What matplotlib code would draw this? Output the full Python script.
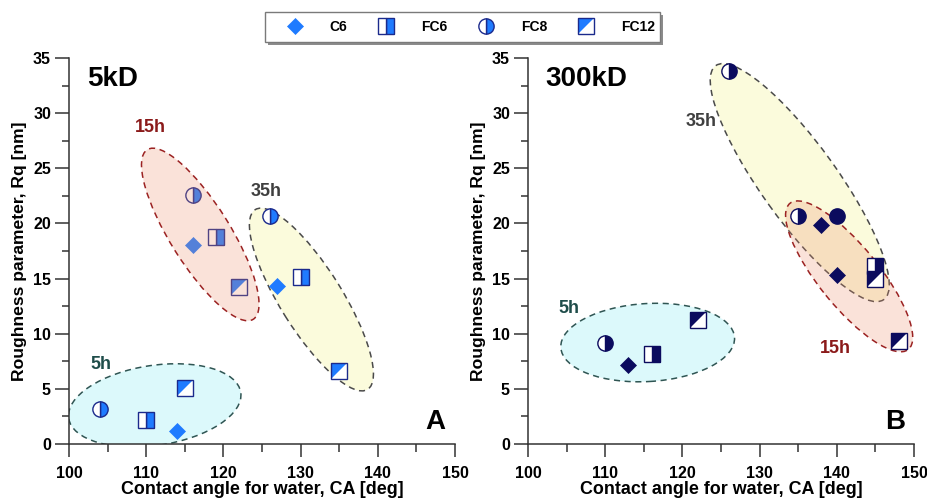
import matplotlib
matplotlib.use('Agg')
import matplotlib.pyplot as plt
from matplotlib.lines import Line2D
from matplotlib.patches import Ellipse, Rectangle
from matplotlib.path import Path
from matplotlib.transforms import ScaledTranslation
from matplotlib.ticker import MultipleLocator

plt.rcParams['font.family'] = ['Liberation Sans', 'DejaVu Sans']
plt.rcParams['font.weight'] = 'bold'

DPI = 100

# 5kD membranes: contact angle (deg), roughness Rq (nm), modifier
ca_5kd = [104, 110, 114, 115,
          116, 116, 119, 122,
          126, 127, 130, 135]
rq_5kd = [3.2, 2.2, 1.2, 5.1,
          22.6, 18.0, 18.8, 14.2,
          20.7, 14.3, 15.1, 6.6]
kind_5kd = ['FC8', 'FC6', 'C6', 'FC12',
            'FC8', 'C6', 'FC6', 'FC12',
            'FC8', 'C6', 'FC6', 'FC12']

# 300kD membranes
ca_300kd = [110, 113, 116, 122,
            126, 138, 145, 145,
            135, 140, 140, 148]
rq_300kd = [9.2, 7.2, 8.2, 11.2,
            33.8, 19.9, 16.1, 15.0,
            20.7, 20.7, 15.3, 9.3]
kind_300kd = ['FC8', 'C6', 'FC6', 'FC12',
              'FC8', 'C6', 'FC6', 'FC12',
              'FC8', 'FC8full', 'C6', 'FC12']

legend_labels = ['C6', 'FC6', 'FC8', 'FC12']

# group outlines: centre (data), half axes (px), angle (deg), fill, edge, zorder
rings_5kd = [
    (111.1, 3.5, 87, 40, 8.6, '#dcf9fb', '#2f5553', 1),
    (117.0, 19.0, 100, 30, -58, (0.937, 0.561, 0.42, 0.25), '#9b2222', 4),
    (131.4, 13.1, 106, 31, -58, '#fbfbdc', '#4a4a4a', 1),
]
rings_300kd = [
    (115.5, 9.2, 87, 39, 3.3, '#dcf9fb', '#2f5553', 1),
    (135.2, 23.7, 144, 38, -54.3, '#fbfbdc', '#4a4a4a', 1),
    (141.6, 15.2, 94, 30, -51, (0.937, 0.561, 0.42, 0.25), '#9b2222', 1.5),
]

# group names and their positions
tags_5kd = [('15h', 110.6, 28.7, '#8b1a1a'), ('35h', 125.5, 22.9, '#3f3f3f'),
            ('5h', 104.1, 7.2, '#1f4d4a')]
tags_300kd = [('35h', 122.4, 29.2, '#3f3f3f'), ('5h', 105.3, 12.3, '#1f4d4a'),
              ('15h', 139.8, 8.7, '#8b1a1a')]

tri = Path([(-1, -1), (-1, 1), (1, 1), (-1, -1)],
           [Path.MOVETO, Path.LINETO, Path.LINETO, Path.CLOSEPOLY])

MS = 11
MEW = 1.0


def marker_lines(kind, face, edge):
    """Line2D style dicts that together build one symbol."""
    if kind == 'C6':
        return [dict(marker='D', ms=MS * 0.7, mfc=face, mec=face, mew=0.5)]
    if kind == 'FC6':
        return [dict(marker='s', ms=MS, mfc=face, mfcalt='white', fillstyle='right',
                     mec=edge, mew=MEW)]
    if kind == 'FC8':
        return [dict(marker='o', ms=MS, mfc=face, mfcalt='white', fillstyle='right',
                     mec=edge, mew=MEW)]
    if kind == 'FC8full':
        return [dict(marker='o', ms=MS, mfc=face, mec=edge, mew=MEW)]
    # FC12: diagonal split square
    return [dict(marker='s', ms=MS, mfc='white', mec='none', mew=0),
            dict(marker=tri, ms=MS, mfc=face, mec='none', mew=0),
            dict(marker='s', ms=MS, mfc='none', mec=edge, mew=MEW)]


def draw_panel(ax, ca, rq, kinds, rings, tags, face, edge, title, letter):
    for cx, cy, a, b, ang, fc, ec, z in rings:
        tr = fig.dpi_scale_trans + ScaledTranslation(cx, cy, ax.transData)
        ax.add_patch(Ellipse((0, 0), 2 * a / DPI, 2 * b / DPI, angle=ang, transform=tr,
                             facecolor=fc, edgecolor=ec, lw=1.1, ls=(0, (4, 3)), zorder=z))
    for x, y, k in zip(ca, rq, kinds):
        for st in marker_lines(k, face, edge):
            ax.plot([x], [y], ls='none', zorder=3, **st)
    for txt, x, y, c in tags:
        ax.text(x, y, txt, color=c, fontsize=13, fontweight='bold', ha='center', va='center')
    ax.text(102.3, 33.1, title, fontsize=20, fontweight='bold', ha='left', va='center')
    ax.text(147.5, 2.0, letter, fontsize=20, fontweight='bold', ha='center', va='center')

    ax.set_xlim(100, 150)
    ax.set_ylim(0, 35)
    ax.xaxis.set_major_locator(MultipleLocator(10))
    ax.xaxis.set_minor_locator(MultipleLocator(5))
    ax.yaxis.set_major_locator(MultipleLocator(5))
    ax.yaxis.set_minor_locator(MultipleLocator(2.5))
    for s in ['top', 'right']:
        ax.spines[s].set_visible(False)
    for s in ['left', 'bottom']:
        ax.spines[s].set_linewidth(1.1)
        ax.spines[s].set_color('#333333')
    ax.tick_params(axis='x', which='major', length=9, width=1.1, pad=7, labelsize=11.5,
                   color='#333333')
    ax.tick_params(axis='x', which='minor', length=5.5, width=1.1, color='#333333')
    ax.tick_params(axis='y', which='major', length=10, width=1.1, pad=3, labelsize=11.5,
                   color='#333333')
    ax.tick_params(axis='y', which='minor', length=5, width=1.1, color='#333333')
    ax.set_xlabel('Contact angle for water, CA [deg]', fontsize=12.9, fontweight='bold')
    ax.set_ylabel('Roughness parameter, Rq [nm]', fontsize=12.6, fontweight='bold')
    ax.xaxis.set_label_coords(0.5, -0.097)
    ax.yaxis.set_label_coords(-0.108, 0.5)


fig = plt.figure(figsize=(9.28, 5.0), dpi=DPI)
ax1 = fig.add_axes([0.0744, 0.112, 0.4159, 0.772])
ax2 = fig.add_axes([0.569, 0.112, 0.4159, 0.772])

blue, blue_edge = '#1f7bff', '#1b2a8c'
navy = '#0b0b5e'

draw_panel(ax1, ca_5kd, rq_5kd, kind_5kd, rings_5kd, tags_5kd, blue, blue_edge, '5kD', 'A')
draw_panel(ax2, ca_300kd, rq_300kd, kind_300kd, rings_300kd, tags_300kd, navy, navy, '300kD', 'B')

# legend box with a drop shadow
fig.patches.append(Rectangle((268 / 928, 455 / 500), 395 / 928, 30 / 500,
                             transform=fig.transFigure, facecolor='#8c8c8c',
                             edgecolor='none', zorder=0))
fig.patches.append(Rectangle((265 / 928, 458 / 500), 395 / 928, 30 / 500,
                             transform=fig.transFigure, facecolor='white',
                             edgecolor='#7a7a7a', lw=1.0, zorder=1))

handles = []
for k in legend_labels:
    parts = [Line2D([], [], ls='none', **st) for st in marker_lines(k, blue, blue_edge)]
    handles.append(parts[0] if len(parts) == 1 else tuple(parts))
fig.legend(handles, legend_labels, loc='center', bbox_to_anchor=(0.508, 0.946), ncol=4,
           frameon=False, handlelength=1.0, handletextpad=2.0, columnspacing=2.3,
           prop={'weight': 'bold', 'size': 10})

fig.savefig('out.png', dpi=DPI)
